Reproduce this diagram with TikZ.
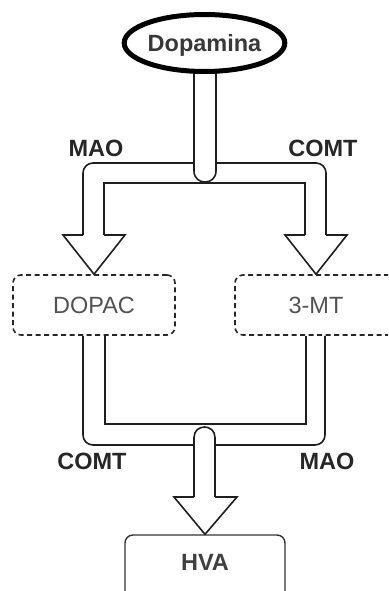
\documentclass[tikz,border=0pt]{standalone}
\usepackage{fontspec}
\setmainfont{Liberation Sans}
\usetikzlibrary{positioning, shapes.geometric, calc, backgrounds}
\tikzset{
    txt/.style={font=\fontsize{23.5}{28}\selectfont, text height=16.8pt, text depth=0pt, align=center},
    mol/.style={txt, draw=black, ellipse, line width=5pt, fill=white, minimum width=160pt, minimum height=57pt, inner sep=0pt, font=\fontsize{23.5}{28}\selectfont\bfseries, text=black!78},
    interm/.style={txt, draw=black!85, dash pattern=on 5pt off 3.5pt, line width=1.6pt, rounded corners=8pt, minimum width=162pt, minimum height=60pt, text=black!68},
    final/.style={txt, draw=black!80, line width=1.4pt, rounded corners=8pt, minimum width=160pt, minimum height=64pt, text depth=9pt, font=\fontsize{23.5}{28}\selectfont\bfseries, text=black!75},
    enzlbl/.style={txt, inner sep=0pt, font=\fontsize{23.5}{28}\selectfont\bfseries, text=black!85},
    flexline/.style={line width=1.6pt, draw=black!88},
    flexbody/.style={flexline, fill=white},
}

\begin{document}
\begin{tikzpicture}[x=1pt, y=-1pt]
    \useasboundingbox (0,0) rectangle (388,591);
    \clip (0,0) rectangle (388,591);
    % Metabolitos
    \node[mol]    (dopa)  at (204.5,43) {Dopamina};
    \node[interm] (dopac) at (94,305)   {DOPAC};
    \node[interm] (mt)    at (316,305)  {3-MT};
    \node[final]  (hva)   at (205,567)  {HVA};
    % Enzimas
    \node[enzlbl] (maoA)  at (96,148)   {MAO};
    \node[enzlbl] (comtA) at (323,148)  {COMT};
    \node[enzlbl] (comtB) at (92,461)   {COMT};
    \node[enzlbl] (maoB)  at (327,461)  {MAO};
    \begin{scope}[on background layer]
        % Dopamina -> DOPAC / 3-MT
        \draw[flexline, rounded corners=10pt] (83,235) |- (326,163) -- (326,235);
        \draw[flexline] (104,235) |- (305,183) -- (305,235);
        \draw[flexbody] (194,60) -- (194,171) .. controls (194,185.7) and (216,185.7) .. (216,171) -- (216,60);
        \draw[flexbody] (83,235) -- (63,235) -- (dopac.north) -- (125,235) -- (104,235);
        \draw[flexbody] (305,235) -- (285,235) -- (mt.north) -- (347,235) -- (326,235);
        % DOPAC / 3-MT -> HVA
        \draw[flexline, rounded corners=10pt] (dopac.south -| 83,0) |- (325,445) -- (mt.south -| 325,0);
        \draw[flexline] (dopac.south -| 105,0) |- (306,424) -- (mt.south -| 306,0);
        \draw[flexbody] (194,497) -- (194,437.5) .. controls (194,423.5) and (215,423.5) .. (215,437.5) -- (215,497);
        \draw[flexbody] (194,497) -- (174,497) -- (hva.north) -- (237,497) -- (215,497);
    \end{scope}
\end{tikzpicture}
\end{document}
